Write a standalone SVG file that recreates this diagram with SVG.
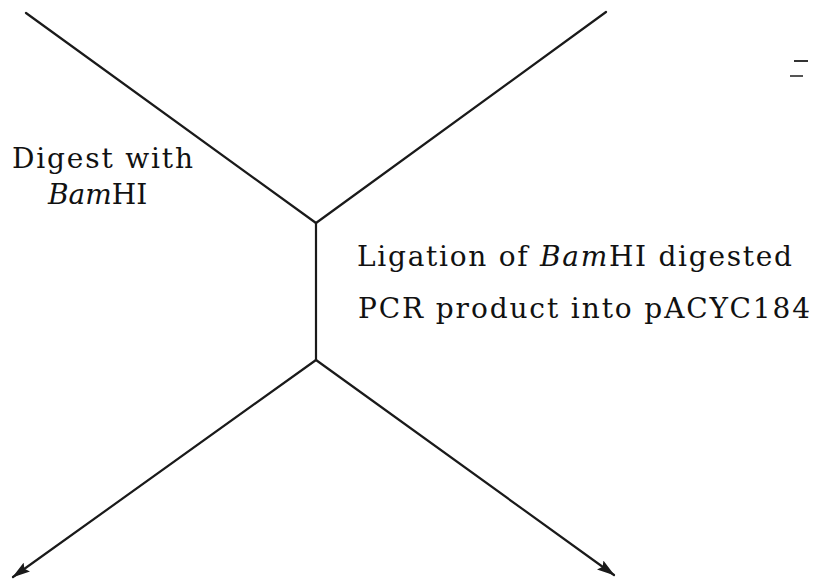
<svg xmlns="http://www.w3.org/2000/svg" width="815" height="582" viewBox="0 0 815 582">
  <style>
    .ln { stroke: #1a1a1a; stroke-width: 2.2; fill: none; stroke-linecap: round; }
    .lbl { font-family: "DejaVu Serif", "Liberation Serif", serif; font-size: 28px; fill: #111; }
    .it { font-style: italic; }
  </style>
  <defs>
    <marker id="head" viewBox="0 0 18 11" refX="17" refY="5.5" markerWidth="18" markerHeight="11" markerUnits="userSpaceOnUse" orient="auto">
      <path d="M0,0 L18,5.5 L0,11 L3,5.5 Z" fill="#1a1a1a"/>
    </marker>
  </defs>

  <g id="connectors">
    <line class="ln" x1="26" y1="13" x2="316" y2="223"/>
    <line class="ln" x1="606" y1="12" x2="316" y2="223"/>
    <line class="ln" x1="316" y1="223" x2="316" y2="360"/>
    <line class="ln" x1="316" y1="360" x2="13" y2="577" marker-end="url(#head)"/>
    <line class="ln" x1="316" y1="360" x2="614" y2="575" marker-end="url(#head)"/>
  </g>

  <g id="digest-label">
    <text class="lbl" x="12" y="168" textLength="181" lengthAdjust="spacing">Digest with</text>
    <text class="lbl" x="48" y="204"><tspan class="it">Bam</tspan>HI</text>
  </g>

  <g id="ligation-label">
    <text class="lbl" x="357" y="266" textLength="435" lengthAdjust="spacing">Ligation of <tspan class="it">Bam</tspan>HI digested</text>
    <text class="lbl" x="358" y="318" textLength="452" lengthAdjust="spacing">PCR product into pACYC184</text>
  </g>

  <g id="mark">
    <line x1="794" y1="61" x2="808" y2="61" stroke="#333" stroke-width="2"/>
    <line x1="790" y1="76" x2="803" y2="76" stroke="#555" stroke-width="2"/>
  </g>
</svg>
